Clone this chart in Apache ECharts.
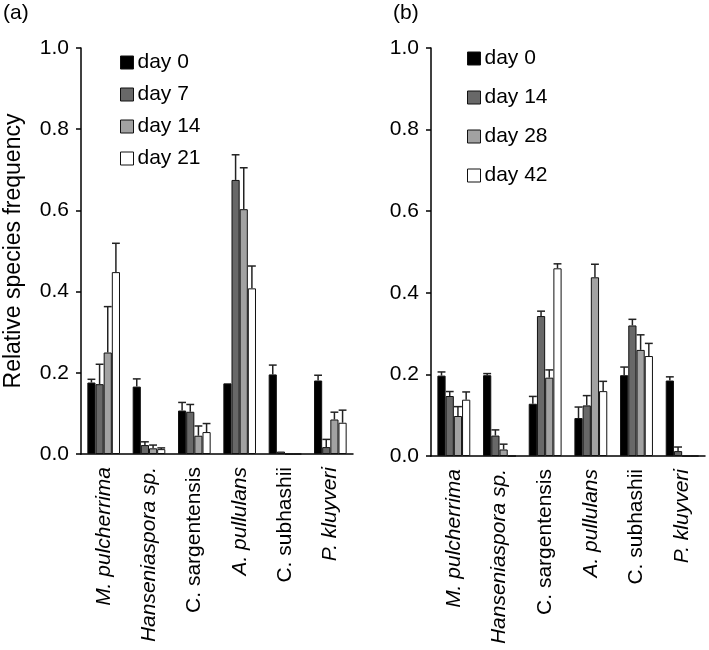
<!DOCTYPE html>
<html>
<head>
<meta charset="utf-8">
<script src="https://cdn.jsdelivr.net/npm/echarts@6/dist/echarts.min.js"></script>
<style>html,body{margin:0;padding:0;background:#fff}#c{width:709px;height:650px}</style>
</head>
<body>
<div id="c"></div>
<script>
// ---- data ----
const categories = ['M. pulcherrima', 'Hanseniaspora sp.', 'C. sargentensis', 'A. pullulans', 'C. subhashii', 'P. kluyveri'];
const yTicks = [0, 0.2, 0.4, 0.6, 0.8, 1.0];

// panel (a)
const namesA = ['day 0', 'day 7', 'day 14', 'day 21'];
const aDay0  = [0.176, 0.166, 0.107, 0.174, 0.196, 0.181];
const aDay7  = [0.172, 0.022, 0.104, 0.675, 0.006, 0.017];
const aDay14 = [0.250, 0.014, 0.045, 0.603, 0.000, 0.085];
const aDay21 = [0.448, 0.012, 0.054, 0.408, 0.000, 0.077];
const aErr0  = [0.008, 0.019, 0.020, 0.000, 0.023, 0.013];
const aErr7  = [0.049, 0.008, 0.018, 0.062, 0.000, 0.019];
const aErr14 = [0.113, 0.008, 0.024, 0.102, 0.000, 0.018];
const aErr21 = [0.071, 0.003, 0.021, 0.055, 0.000, 0.031];

// panel (b)
const namesB = ['day 0', 'day 14', 'day 28', 'day 42'];
const bDay0  = [0.197, 0.198, 0.128, 0.093, 0.198, 0.185];
const bDay14 = [0.147, 0.050, 0.343, 0.124, 0.320, 0.012];
const bDay28 = [0.098, 0.016, 0.192, 0.438, 0.260, 0.000];
const bDay42 = [0.138, 0.000, 0.460, 0.159, 0.245, 0.000];
const bErr0  = [0.009, 0.004, 0.018, 0.027, 0.020, 0.009];
const bErr14 = [0.011, 0.014, 0.012, 0.024, 0.015, 0.010];
const bErr28 = [0.023, 0.013, 0.019, 0.032, 0.037, 0.000];
const bErr42 = [0.019, 0.000, 0.011, 0.024, 0.031, 0.000];

// ---- styling / building ----
const FONT = 'Liberation Sans, Arial, sans-serif';
const colors = ['#000000', '#686868', '#a2a2a2', '#ffffff'];
const BARW = 0.18;
const uprightLabels = new Set(['C. sargentensis', 'C. subhashii']);

function makeXAxis(gridIndex) {
  return {
    type: 'category', gridIndex, data: categories,
    axisLine: { lineStyle: { color: '#000', width: 1.5 } },
    axisTick: { length: 6, lineStyle: { color: '#000', width: 1.5 } },
    axisLabel: {
      interval: 0, rotate: 90, margin: 13, color: '#000',
      formatter: v => uprightLabels.has(v) ? '{n|' + v + '}' : '{i|' + v + '}',
      rich: {
        i: { fontStyle: 'italic', fontSize: 21, fontFamily: FONT, color: '#000' },
        n: { fontStyle: 'normal', fontSize: 21, fontFamily: FONT, color: '#000' }
      }
    }
  };
}
function makeYAxis(gridIndex, withName) {
  const ax = {
    type: 'value', gridIndex, min: 0, max: 1, interval: 0.2,
    splitLine: { show: false },
    axisLine: { show: true, lineStyle: { color: '#000', width: 1.5 } },
    axisTick: { show: true, length: 5, lineStyle: { color: '#000', width: 1.5 } },
    axisLabel: { margin: 12, fontSize: 21, fontFamily: FONT, color: '#000',
      formatter: v => yTicks.indexOf(Math.round(v * 10) / 10) >= 0 ? v.toFixed(1) : '' }
  };
  if (withName) {
    Object.assign(ax, {
      name: 'Relative species frequency', nameLocation: 'middle', nameGap: 56,
      nameTextStyle: { fontSize: 23, fontFamily: FONT, color: '#000' }
    });
  }
  return ax;
}

const series = [];
function addPanel(idx, names, vals, errs) {
  vals.forEach((arr, i) => {
    series.push({
      type: 'bar', name: names[i], xAxisIndex: idx, yAxisIndex: idx,
      data: arr, barWidth: (BARW * 100) + '%', barGap: '0%',
      itemStyle: { color: colors[i], borderColor: '#111', borderWidth: 1 },
      emphasis: { disabled: true }, z: 2
    });
  });
  errs.forEach((earr, i) => {
    const data = earr.map((e, k) => [k, vals[i][k], e]);
    series.push({
      type: 'custom', xAxisIndex: idx, yAxisIndex: idx, z: 3,
      data,
      renderItem: (params, api) => {
        const k = api.value(0), v = api.value(1), e = api.value(2);
        if (!e) return null;
        const bw = api.size([1, 0])[0] * BARW;
        const base = api.coord([k, v]);
        const top = api.coord([k, v + e]);
        const cx = base[0] + (i - 1.5) * bw;
        const half = bw * 0.48;
        const st = { stroke: '#222', lineWidth: 1.5 };
        return {
          type: 'group', children: [
            { type: 'line', shape: { x1: cx, y1: base[1], x2: cx, y2: top[1] }, style: st },
            { type: 'line', shape: { x1: cx - half, y1: top[1], x2: cx + half, y2: top[1] }, style: st }
          ]
        };
      }
    });
  });
}
addPanel(0, namesA, [aDay0, aDay7, aDay14, aDay21], [aErr0, aErr7, aErr14, aErr21]);
addPanel(1, namesB, [bDay0, bDay14, bDay28, bDay42], [bErr0, bErr14, bErr28, bErr42]);

function makeLegend(names, left, top, gap) {
  return {
    orient: 'vertical', left, top, itemGap: gap, itemWidth: 13, itemHeight: 13,
    padding: 0, icon: 'rect', selectedMode: false,
    textStyle: { fontSize: 21, fontFamily: FONT, color: '#000', padding: [0, 0, 0, -1] },
    data: names.map((n, i) => ({ name: n, itemStyle: { color: colors[i], borderColor: '#111', borderWidth: 1 } }))
  };
}

const option = {
  animation: false,
  backgroundColor: '#fff',
  grid: [
    { left: 81, top: 48, width: 272, height: 406 },
    { left: 431, top: 48, width: 274, height: 408 }
  ],
  xAxis: [makeXAxis(0), makeXAxis(1)],
  yAxis: [makeYAxis(0, true), makeYAxis(1, false)],
  legend: [makeLegend(namesA, 120, 52, 11), makeLegend(namesB, 467, 48, 18)],
  graphic: [
    { type: 'text', left: 3, top: 3, style: { text: '(a)', fontSize: 21, fontFamily: FONT, fill: '#000' } },
    { type: 'text', left: 393, top: 3, style: { text: '(b)', fontSize: 21, fontFamily: FONT, fill: '#000' } }
  ],
  series
};
const chart = echarts.init(document.getElementById('c'), null, { renderer: 'canvas' });
chart.setOption(option);
</script>
</body>
</html>
